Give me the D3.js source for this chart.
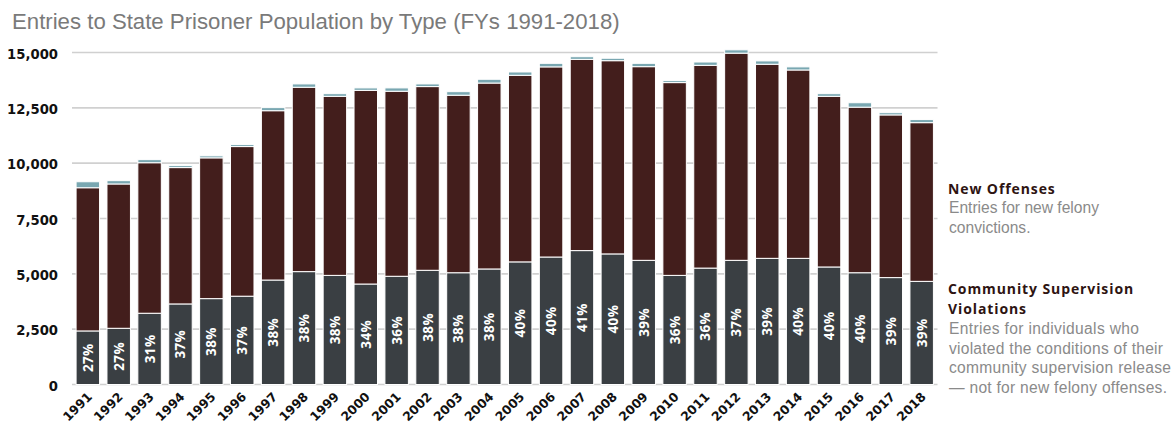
<!DOCTYPE html>
<html>
<head>
<meta charset="utf-8">
<script src="https://cdn.jsdelivr.net/npm/d3@7"></script>
<style>
  body { margin: 0; background: #fff; }
  svg { display: block; }
</style>
</head>
<body>
<svg id="chart" width="1176" height="430"></svg>
<script>
const years = ["1991","1992","1993","1994","1995","1996","1997","1998","1999","2000","2001","2002","2003","2004","2005","2006","2007","2008","2009","2010","2011","2012","2013","2014","2015","2016","2017","2018"];
const violations = [2420,2540,3220,3640,3880,3990,4720,5100,4930,4540,4890,5160,5050,5220,5540,5760,6050,5900,5610,4930,5260,5610,5700,5700,5310,5050,4830,4660];
const newOffenses = [6470,6520,6800,6160,6360,6760,7650,8330,8090,8750,8360,8300,8020,8400,8430,8590,8640,8730,8750,8710,9160,9360,8770,8510,7710,7480,7350,7170];
const other = [270,150,140,90,90,90,140,150,120,110,150,120,160,170,150,160,120,110,150,90,150,150,150,140,120,200,100,140];
const pctLabels = ["27%","27%","31%","37%","38%","37%","38%","38%","38%","34%","36%","38%","38%","38%","40%","40%","41%","40%","39%","36%","36%","37%","39%","40%","40%","40%","39%","39%"];
const yTicks = [0,2500,5000,7500,10000,12500,15000];

const svg = d3.select("#chart");
const mLeft = 72, mRight = 937.5, mTop = 52.5, mBottom = 384.5;

const x = d3.scaleBand().domain(years).range([mLeft + 1, mRight - 1]).paddingInner(0.24).paddingOuter(0.1);
const y = d3.scaleLinear().domain([0, 15000]).range([mBottom, mTop]);

// title
svg.append("text").attr("x", 12).attr("y", 28.5)
  .attr("font-family", "Liberation Sans, Arial, sans-serif")
  .attr("font-size", 22.2).attr("fill", "#7a7a7a")
  .text("Entries to State Prisoner Population by Type (FYs 1991-2018)");

// gridlines
svg.append("g").selectAll("line").data(yTicks).join("line")
  .attr("x1", mLeft).attr("x2", mRight)
  .attr("y1", d => y(d)).attr("y2", d => y(d))
  .attr("stroke", "#d0d0d0").attr("stroke-width", 1.6);

// y axis labels
const yAxis = d3.axisLeft(y).tickValues(yTicks).tickFormat(d3.format(",")).tickSize(0).tickPadding(0);
const yg = svg.append("g").attr("transform", `translate(58,1.5)`).call(yAxis);
yg.select(".domain").remove();
yg.selectAll("text").attr("font-family", "DejaVu Sans, Verdana, sans-serif")
  .attr("font-weight", "bold").attr("font-size", 13.2).attr("fill", "#111");

// stacked data
const data = years.map((yr, i) => ({ year: yr, violations: violations[i], newOffenses: newOffenses[i], other: other[i], pct: pctLabels[i] }));
const keys = ["violations", "newOffenses", "other"];
const colors = { violations: "#3a3f43", newOffenses: "#431e1c", other: "#79a7b1" };
const stack = d3.stack().keys(keys)(data);

svg.append("g").selectAll("g").data(stack).join("g")
  .attr("fill", s => colors[s.key])
  .selectAll("rect").data(s => s).join("rect")
  .attr("x", d => x(d.data.year))
  .attr("width", x.bandwidth())
  .attr("y", d => y(d[1]))
  .attr("height", d => Math.max(0, y(d[0]) - y(d[1])))
  .attr("stroke", "#fff").attr("stroke-width", 1);

// percent labels
svg.append("g").selectAll("text").data(data).join("text")
  .attr("transform", d => `translate(${x(d.year) + x.bandwidth() / 2 + 5},${(y(0) + y(d.violations)) / 2}) rotate(-90)`)
  .attr("text-anchor", "middle")
  .attr("font-family", "Open Sans, sans-serif").attr("font-weight", "bold")
  .attr("font-size", 13.5).attr("letter-spacing", 0.4).attr("fill", "#fff")
  .text(d => d.pct);

// x labels
svg.append("g").selectAll("text").data(years).join("text")
  .attr("transform", d => `translate(${x(d) + x.bandwidth() / 2 + 5},${mBottom + 13}) rotate(-45)`)
  .attr("text-anchor", "end")
  .attr("font-family", "DejaVu Sans, Verdana, sans-serif").attr("font-weight", "bold")
  .attr("font-size", 12.5).attr("fill", "#111")
  .text(d => d);

// legend
const lg = svg.append("g").attr("font-family", "Liberation Sans, Arial, sans-serif");
const head = (txt, yy) => lg.append("text").attr("x", 948).attr("y", yy)
  .attr("font-family", "Open Sans, sans-serif").attr("font-weight", "bold")
  .attr("font-size", 14).attr("letter-spacing", 0.9).attr("fill", "#2e1412").text(txt);
const desc = (txt, yy, len) => {
  const t = lg.append("text").attr("x", 949).attr("y", yy)
    .attr("font-size", 15.6).attr("fill", "#8a8a8a").text(txt);
  if (len) t.attr("textLength", len).attr("lengthAdjust", "spacing");
  return t;
};
head("New Offenses", 194);
desc("Entries for new felony", 213);
desc("convictions.", 233);
head("Community Supervision", 294);
head("Violations", 313.5);
desc("Entries for individuals who", 334, 190);
desc("violated the conditions of their", 353.5, 214);
desc("community supervision release", 373, 222);
desc("— not for new felony offenses.", 392.5, 218);
</script>
</body>
</html>
